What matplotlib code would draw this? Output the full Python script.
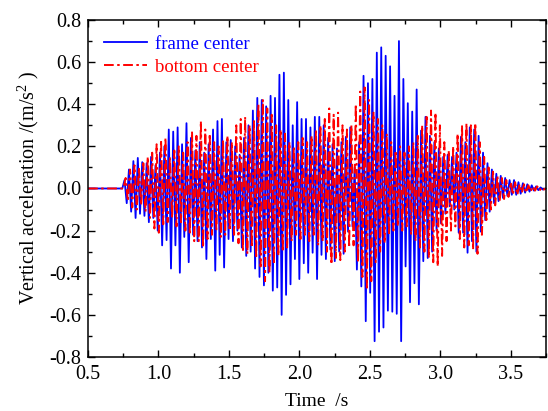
import numpy as np
import matplotlib
matplotlib.use("Agg")
import matplotlib.pyplot as plt
from matplotlib.ticker import MultipleLocator, FormatStrFormatter

# --- peak values, one per oscillation cycle ---
# cycles start at T0 and follow each other every PERIOD seconds
T0 = 0.759
PERIOD = 0.0314

blue_pos = [0.04, 0.09, 0.13, 0.145, 0.125, 0.12, 0.15, 0.11, 0.17, 0.20,
            0.28, 0.27, 0.29, 0.21, 0.31, 0.24, 0.18, 0.22, 0.17, 0.21,
            0.28, 0.32, 0.33, 0.22, 0.23, 0.20, 0.16, 0.24, 0.30, 0.37,
            0.43, 0.42, 0.39, 0.44, 0.43, 0.54, 0.55, 0.42, 0.30, 0.41,
            0.33, 0.33, 0.29, 0.34, 0.34, 0.30, 0.24, 0.21, 0.19, 0.22,
            0.245, 0.29, 0.10, 0.22, 0.535, 0.50, 0.52, 0.645, 0.67, 0.63,
            0.58, 0.44, 0.70, 0.52, 0.405, 0.365, 0.47, 0.275, 0.34, 0.25,
            0.22, 0.19, 0.15, 0.16, 0.15, 0.17, 0.245, 0.22, 0.29, 0.28,
            0.25, 0.17, 0.12, 0.09, 0.07, 0.06, 0.05, 0.04, 0.04, 0.03,
            0.025, 0.02, 0.015, 0.01, 0.005]
blue_neg = [-0.07, -0.11, -0.14, -0.12, -0.13, -0.16, -0.14, -0.20, -0.27, -0.245,
            -0.38, -0.27, -0.40, -0.23, -0.35, -0.22, -0.25, -0.28, -0.335, -0.24,
            -0.39, -0.315, -0.375, -0.24, -0.25, -0.20, -0.28, -0.32, -0.30, -0.38,
            -0.42, -0.46, -0.40, -0.485, -0.47, -0.60, -0.505, -0.455, -0.335, -0.43,
            -0.355, -0.40, -0.305, -0.43, -0.315, -0.335, -0.29, -0.345, -0.30, -0.31,
            -0.205, -0.18, -0.385, -0.465, -0.63, -0.495, -0.725, -0.68, -0.66, -0.58,
            -0.585, -0.595, -0.725, -0.37, -0.54, -0.45, -0.55, -0.345, -0.33, -0.30,
            -0.20, -0.165, -0.12, -0.085, -0.10, -0.21, -0.21, -0.305, -0.25, -0.30,
            -0.205, -0.15, -0.11, -0.07, -0.06, -0.045, -0.035, -0.03, -0.03, -0.025,
            -0.02, -0.015, -0.01, -0.008, -0.005]

red_pos = [0.05, 0.09, 0.11, 0.10, 0.12, 0.15, 0.17, 0.21, 0.23, 0.24,
           0.15, 0.18, 0.20, 0.17, 0.22, 0.27, 0.25, 0.32, 0.28, 0.26,
           0.22, 0.20, 0.23, 0.25, 0.22, 0.30, 0.33, 0.34, 0.30, 0.32,
           0.40, 0.42, 0.38, 0.35, 0.30, 0.28, 0.26, 0.22, 0.20, 0.22,
           0.24, 0.22, 0.25, 0.28, 0.30, 0.33, 0.38, 0.35, 0.36, 0.30,
           0.28, 0.30, 0.40, 0.46, 0.48, 0.42, 0.36, 0.33, 0.30, 0.26,
           0.22, 0.18, 0.20, 0.17, 0.20, 0.22, 0.25, 0.30, 0.34, 0.37,
           0.36, 0.30, 0.22, 0.18, 0.20, 0.26, 0.30, 0.31, 0.30, 0.31,
           0.22, 0.15, 0.10, 0.08, 0.06, 0.05, 0.04, 0.03, 0.03, 0.02,
           0.02, 0.015, 0.01, 0.01, 0.005]
red_neg = [-0.06, -0.09, -0.10, -0.08, -0.11, -0.14, -0.19, -0.21, -0.17, -0.16,
           -0.14, -0.18, -0.16, -0.20, -0.22, -0.25, -0.25, -0.28, -0.24, -0.22,
           -0.20, -0.23, -0.22, -0.20, -0.22, -0.26, -0.30, -0.31, -0.28, -0.33,
           -0.37, -0.44, -0.40, -0.36, -0.32, -0.30, -0.28, -0.25, -0.22, -0.24,
           -0.22, -0.25, -0.22, -0.27, -0.25, -0.30, -0.36, -0.33, -0.34, -0.30,
           -0.28, -0.27, -0.35, -0.42, -0.48, -0.44, -0.35, -0.30, -0.26, -0.22,
           -0.20, -0.18, -0.20, -0.18, -0.22, -0.25, -0.28, -0.30, -0.33, -0.35,
           -0.37, -0.32, -0.25, -0.20, -0.18, -0.24, -0.28, -0.27, -0.29, -0.31,
           -0.22, -0.15, -0.10, -0.08, -0.06, -0.05, -0.04, -0.03, -0.03, -0.02,
           -0.02, -0.015, -0.01, -0.01, -0.005]

x_ticks = [0.5, 1.0, 1.5, 2.0, 2.5, 3.0, 3.5]
y_ticks = [-0.8, -0.6, -0.4, -0.2, 0.0, 0.2, 0.4, 0.6, 0.8]


def zigzag(pos, neg, shift):
    """Peaks and troughs in time order, with the quiet parts before and after."""
    n = len(pos)
    tp = T0 + shift + PERIOD * np.arange(n)
    tn = tp + PERIOD / 2
    t = np.empty(2 * n)
    v = np.empty(2 * n)
    t[0::2], t[1::2] = tp, tn
    v[0::2], v[1::2] = pos, neg
    t = np.concatenate([[0.5, T0 + shift - PERIOD / 2], t, [3.75]])
    v = np.concatenate([[0.0, 0.0], v, [0.0]])
    return t, v


plt.rcParams["font.family"] = ["Liberation Serif", "DejaVu Serif"]
plt.rcParams["mathtext.fontset"] = "custom"
plt.rcParams["mathtext.rm"] = "Liberation Serif"
plt.rcParams["axes.unicode_minus"] = False
plt.rcParams["lines.scale_dashes"] = False

fig = plt.figure(figsize=(5.48, 4.11), dpi=100)
ax = fig.add_axes([0.1606, 0.1314, 0.836, 0.82])

tb, vb = zigzag(blue_pos, blue_neg, 0.0)
tr, vr = zigzag(red_pos, red_neg, PERIOD / 4)

ax.plot(tb, vb, color="#0000ff", lw=1.3, label="frame center")
ax.plot(tr, vr, color="#ff0000", lw=1.4, linestyle=(0, (7, 2.5, 1.8, 2.5)),
        label="bottom center")

ax.set_xlim(0.5, 3.75)
ax.set_ylim(-0.8, 0.8)
ax.set_xticks(x_ticks)
ax.set_yticks(y_ticks)
ax.xaxis.set_minor_locator(MultipleLocator(0.25))
ax.yaxis.set_minor_locator(MultipleLocator(0.1))
ax.xaxis.set_major_formatter(FormatStrFormatter("%.1f"))
ax.yaxis.set_major_formatter(FormatStrFormatter("%.1f"))
ax.tick_params(which="both", direction="in", top=True, right=True,
               labelsize=14.5, width=1.0)
ax.tick_params(which="major", length=5)
ax.tick_params(axis="x", which="major", pad=6)
ax.tick_params(axis="y", which="major", pad=5)
ax.tick_params(which="minor", length=3)
for sp in ax.spines.values():
    sp.set_linewidth(1.1)

ax.set_xlabel("Time  /s", fontsize=14, labelpad=6)
ax.set_ylabel(r"Vertical acceleration /(m/s$^{2}$ )", fontsize=14.5, labelpad=6)

ax.legend(loc="upper left", frameon=False, fontsize=13.5, handlelength=2.3,
          handletextpad=0.4, borderaxespad=0.5, borderpad=0.35,
          labelspacing=0.3, labelcolor="linecolor")

fig.savefig("out.png", dpi=100)
